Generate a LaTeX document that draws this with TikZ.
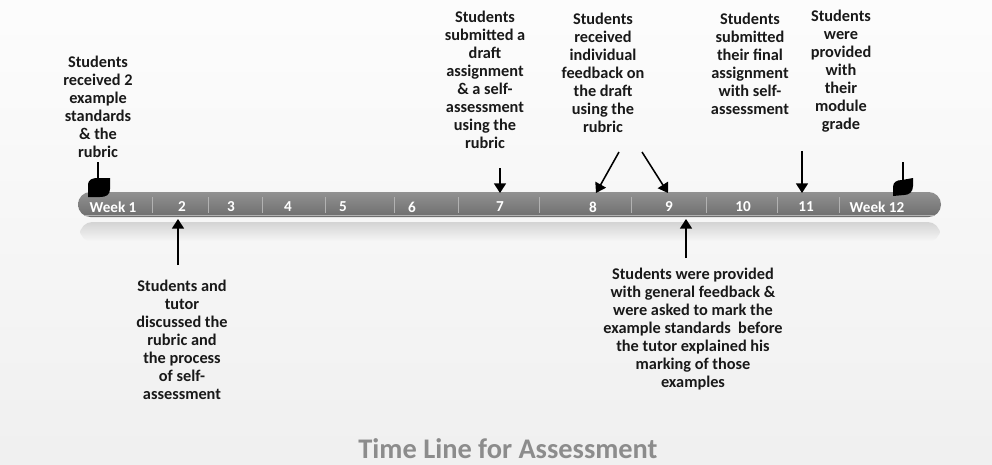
\documentclass[tikz,border=0pt]{standalone}
\usepackage{fontspec}
\setmainfont{Carlito}
\usetikzlibrary{arrows.meta,positioning,calc}
\definecolor{tlbar}{rgb}{0.50,0.50,0.50}
\definecolor{tltitle}{rgb}{0.55,0.55,0.55}

\begin{document}
\begin{tikzpicture}[
  x=0.25mm, y=-0.25mm,
  font=\fontsize{11.6}{12.8}\selectfont\bfseries,
  note/.style={align=center, inner sep=0pt, text=black!90},
  wk/.style={text=white, inner sep=0pt, font=\fontsize{10.8}{12}\selectfont\bfseries},
  arr/.style={-{Triangle[width=3mm,length=2.4mm]}, line width=1.1pt, black},
  pole/.style={line width=1.1pt, black},
  flagleaf/.style={fill=black}
]
% background and page size
\shade[top color=black!1, bottom color=black!6] (0,0) rectangle (992,465);
\useasboundingbox (0,0) rectangle (992,465);

% bar and its reflection
\shade[top color=black!17, bottom color=black!3, rounded corners=3.1mm]
  (80,222) rectangle (940,242);
\shade[top color=black!43, bottom color=black!57, rounded corners=3.1mm]
  (78,192) rectangle (941,217);
\draw[black!30, line width=0.6pt] (84,215.5) -- (935,215.5);
\foreach \sx in {152,208,262,325,394,458,539,631,706,777,839}
  \draw[black!30, line width=0.5pt] (\sx,197) -- (\sx,213);

\node[wk] (wk1)  at (113,207) {Week 1};
\node[wk] (wk2)  at (182,207) {2};
\node[wk] (wk3)  at (231,207) {3};
\node[wk] (wk4)  at (288,207) {4};
\node[wk] (wk5)  at (343,207) {5};
\node[wk] (wk6)  at (412,207) {6};
\node[wk] (wk7)  at (500,207) {7};
\node[wk] (wk8)  at (593,207) {8};
\node[wk] (wk9)  at (669,207) {9};
\node[wk] (wk10) at (743,207) {10};
\node[wk] (wk11) at (806,207) {11};
\node[wk] (wk12) at (877,207) {Week 12};

% flags
\draw[pole] (98,162) -- (98,180);
\fill[flagleaf] (88,197) -- (88,186) .. controls (88,179) and (92,178) .. (99,178)
  -- (110,178) -- (110,189) .. controls (110,195) and (106,197) .. (100,197) -- cycle;
\draw[pole] (903,162) -- (903,181);
\fill[flagleaf] (893,196) -- (893,187) .. controls (893,182) and (897,180) .. (902,180)
  -- (913,178) -- (913,186) .. controls (913,192) and (909,195) .. (904,195) -- cycle;

% notes above
\node[note] (recv) at (98,107)
  {Students\\received 2\\example\\standards\\\& the\\rubric};
\node[note] (draft) at (485,80)
  {Students\\submitted a\\draft\\assignment\\\& a self-\\assessment\\using the\\rubric};
\node[note] (indiv) at (603,73)
  {Students\\received\\individual\\feedback on\\the draft\\using the\\rubric};
\node[note] (final) at (750,64)
  {Students\\submitted\\their final\\assignment\\with self-\\assessment};
\node[note] (grade) at (841,71)
  {Students\\were\\provided\\with\\their\\module\\grade};

% notes below
\node[note] (discuss) at (182,340)
  {Students and\\tutor\\discussed the\\rubric and\\the process\\of self-\\assessment};
\node[note] (general) at (693,329)
  {Students were provided\\with general feedback \&\\were asked to mark the\\example standards\ \ before\\the tutor explained his\\marking of those\\examples};

\node[text=tltitle, font=\fontsize{20.2}{22}\selectfont\bfseries] (title) at (508,449)
  {Time Line for Assessment};

% arrows
\coordinate (t7) at (500,168);  \coordinate (h7) at (500,193);
\coordinate (t8) at (619,152);  \coordinate (h8) at (596,193);
\coordinate (t9) at (642,152);  \coordinate (h9) at (668,193);
\coordinate (t11) at (802,151); \coordinate (h11) at (802,193);
\coordinate (t2) at (178,265);  \coordinate (h2) at (178,219);
\coordinate (tg) at (686,258);  \coordinate (hg) at (686,219);

\draw[arr] (t7) -- (h7);
\draw[arr] (t8) -- (h8);
\draw[arr] (t9) -- (h9);
\draw[arr] (t11) -- (h11);
\draw[arr] (t2) -- (h2);
\draw[arr] (tg) -- (hg);

\end{tikzpicture}
\end{document}
